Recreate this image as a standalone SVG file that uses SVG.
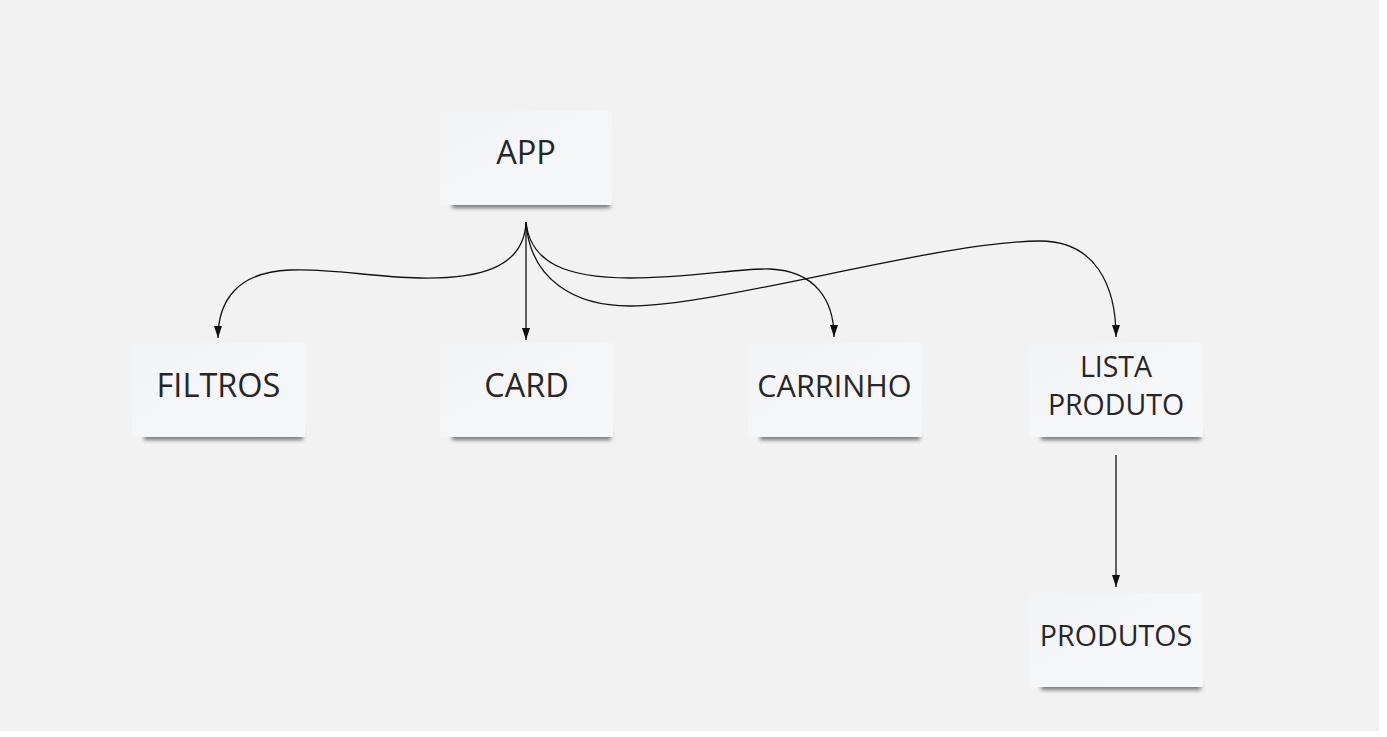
<svg xmlns="http://www.w3.org/2000/svg" width="1387" height="737" viewBox="0 0 1387 737">
<defs>
<filter id="sh" x="-10%" y="-50%" width="120%" height="200%"><feGaussianBlur stdDeviation="2"/></filter>
<linearGradient id="ng" x1="0" y1="0" x2="1" y2="1">
<stop offset="0" stop-color="#f2f3f5"/>
<stop offset="0.5" stop-color="#f5f6f8"/>
<stop offset="1" stop-color="#f6f7f9"/>
</linearGradient>
<marker id="ah" viewBox="0 0 12 8" refX="12" refY="4" markerWidth="12" markerHeight="8" markerUnits="userSpaceOnUse" orient="auto">
<path d="M0,0 L12,4 L0,8 z" fill="#111"/>
</marker>
<style>
.note{fill:url(#ng)}
.shadow{fill:#444;opacity:0.7;filter:url(#sh)}
.lbl{font-family:"Open Sans","Noto Sans","DejaVu Sans",sans-serif;font-weight:400;fill:#262626;text-anchor:middle}
.c{fill:none;stroke:#111;stroke-width:1.3;marker-end:url(#ah)}
</style>
</defs>
<rect x="0" y="0" width="1387" height="737" fill="#ffffff"/>
<rect x="0" y="0" width="1379" height="731" fill="#f2f2f2"/>

<g id="connectors">
<path class="c" d="M526,222 L526,340"/>
<path class="c" d="M526,222 C524,270 475,279 420,278 C370,277 330,268 290,270 C238,272 218,300 218,338"/>
<path class="c" d="M526,222 C530,262 565,278 630,278 C690,278 740,268 770,269 C815,271 834,300 834,337"/>
<path class="c" d="M526,222 C530,280 575,306 630,306 C720,306 940,241 1040,241 C1095,241 1116,285 1116,337"/>
<path class="c" d="M1116,455 L1116,587"/>
</g>

<g id="node-app">
<rect class="shadow" x="452" y="200" width="158" height="8"/>
<rect class="note" x="440" y="111" width="172" height="94"/>
<text class="lbl" x="526" y="164" font-size="32.5">APP</text>
</g>
<g id="node-filtros">
<rect class="shadow" x="144" y="432" width="159" height="8"/>
<rect class="note" x="132" y="343" width="173" height="94"/>
<text class="lbl" x="218.5" y="397" font-size="32.5">FILTROS</text>
</g>
<g id="node-card">
<rect class="shadow" x="452" y="432" width="159" height="8"/>
<rect class="note" x="440" y="343" width="173" height="94"/>
<text class="lbl" x="526.5" y="397" font-size="32.4">CARD</text>
</g>
<g id="node-carrinho">
<rect class="shadow" x="760" y="432" width="160" height="8"/>
<rect class="note" x="748" y="343" width="174" height="94"/>
<text class="lbl" x="834.5" y="397" font-size="30.6">CARRINHO</text>
</g>
<g id="node-lista-produto">
<rect class="shadow" x="1041" y="432" width="160" height="8"/>
<rect class="note" x="1029" y="343" width="174" height="94"/>
<text class="lbl" x="1116" y="377" font-size="28.5">LISTA</text>
<text class="lbl" x="1116" y="415" font-size="28.5">PRODUTO</text>
</g>
<g id="node-produtos">
<rect class="shadow" x="1041" y="682" width="160" height="8"/>
<rect class="note" x="1029" y="593" width="174" height="94"/>
<text class="lbl" x="1116" y="646" font-size="28.6">PRODUTOS</text>
</g>
</svg>
